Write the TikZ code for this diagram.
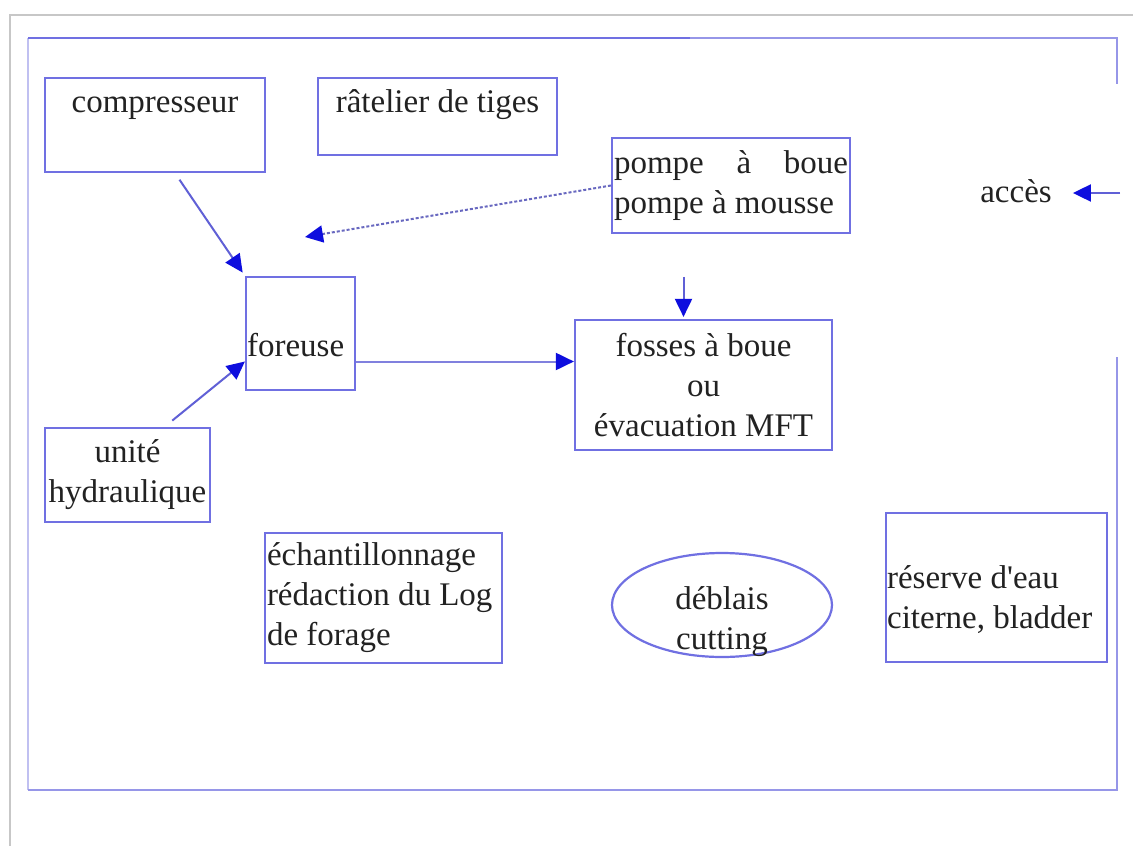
\documentclass[tikz,border=0pt]{standalone}
\usepackage{fontspec}
\setmainfont{Liberation Serif}
\usepackage{tikz}
\usetikzlibrary{positioning,arrows.meta,shapes.geometric}
\definecolor{boxblue}{RGB}{112,112,226}
\definecolor{lineblue}{RGB}{96,96,214}
\definecolor{headblue}{RGB}{14,14,222}
\definecolor{frameblue}{RGB}{150,150,232}
\definecolor{inkgray}{RGB}{34,34,34}

\begin{document}
\begin{tikzpicture}[x=1pt,y=-1pt]
\tikzstyle{box}=[draw=boxblue,line width=2.2pt,rectangle,inner sep=2pt,text=inkgray,font=\fontsize{33}{40}\selectfont]
\tikzstyle{lbl}=[text=inkgray,inner sep=2pt,font=\fontsize{33}{40}\selectfont]
\tikzstyle{link}=[draw=lineblue,line width=2pt,-{Triangle[length=18pt,width=17pt,color=headblue]}]
    \useasboundingbox (0,0) rectangle (1133,846);
    \fill[white] (0,0) rectangle (1133,846);
    % page edges and frame
    \draw[black!22,line width=1.8pt] (10,846) -- (10,15) -- (1133,15);
    \draw[frameblue!60,line width=2pt] (28,38) -- (28,790);
    \draw[frameblue,line width=2.2pt] (690,38) -- (1117,38) -- (1117,84);
    \draw[boxblue,line width=2.2pt] (28,38) -- (690,38);
    \draw[frameblue,line width=2.2pt] (28,790) -- (1117,790) -- (1117,357);
    % equipment
    \node[box,minimum width=220pt,minimum height=94pt] (compresseur) at (155,125) [label={[lbl,anchor=base,yshift=-36pt]north:compresseur}]{};
    \node[box,minimum width=239pt,minimum height=77pt] (ratelier) at (437.5,116.5) [label={[lbl,anchor=base,yshift=-36pt]north:râtelier de tiges}]{};
    \node[box,minimum height=95pt,text width=234pt,align=flush left] (pompe) at (731,185.5) {pompe\hfill à\hfill boue\\pompe à mousse};
    \node[box,minimum width=109pt,minimum height=113pt] (foreuse) at (300.5,333.5) [label={[lbl,anchor=base west,yshift=-23pt]west:foreuse}]{};
    \node[box,minimum width=257pt,minimum height=130pt,align=center] (fosses) at (703.5,385) {fosses à boue\\ou\\évacuation MFT};
    \node[box,minimum width=165pt,minimum height=94pt,align=center] (unite) at (127.5,475) {unité\\hydraulique};
    \node[box,minimum height=130pt,text width=233pt,align=flush left] (echantillon) at (383.5,598) {échantillonnage\\rédaction du Log\\de forage};
    \node[box,ellipse,inner sep=0pt,minimum width=220pt,minimum height=104pt] (deblais) at (722,605) [label={[lbl,align=center,yshift=-17pt]center:déblais\\cutting}]{};
    \node[box,minimum width=221pt,minimum height=149pt] (reserve) at (996.5,587.5) [label={[lbl,align=flush left,anchor=west,yshift=-12pt]west:réserve d\textquotesingle eau\\citerne, bladder}]{};
    \node[lbl,anchor=base] (acces) at (1016,202) {accès};
    % flows
    \coordinate (pompeEnd) at (305,237);
    \coordinate (accesIn) at (1120,193);
    \draw[link,shorten <=8pt,shorten >=4pt] ([xshift=20pt]compresseur.south) to (foreuse.north west);
    \draw[link,draw=lineblue!75!gray,densely dashed] (pompe.west) to (pompeEnd);
    \draw[link,shorten <=10pt] ([xshift=37pt]unite.north) to ([yshift=-28pt]foreuse.west);
    \draw[link,draw=lineblue!80] ([yshift=-28pt]foreuse.east) to ([yshift=-28pt]foreuse.east -| fosses.west);
    \draw[link,shorten >=2pt] ([xshift=-20pt,yshift=42pt]fosses.north) to ([xshift=-20pt]fosses.north);
    \draw[link,shorten >=19pt] (accesIn) to (accesIn -| acces.east);
  \end{tikzpicture}
\end{document}
